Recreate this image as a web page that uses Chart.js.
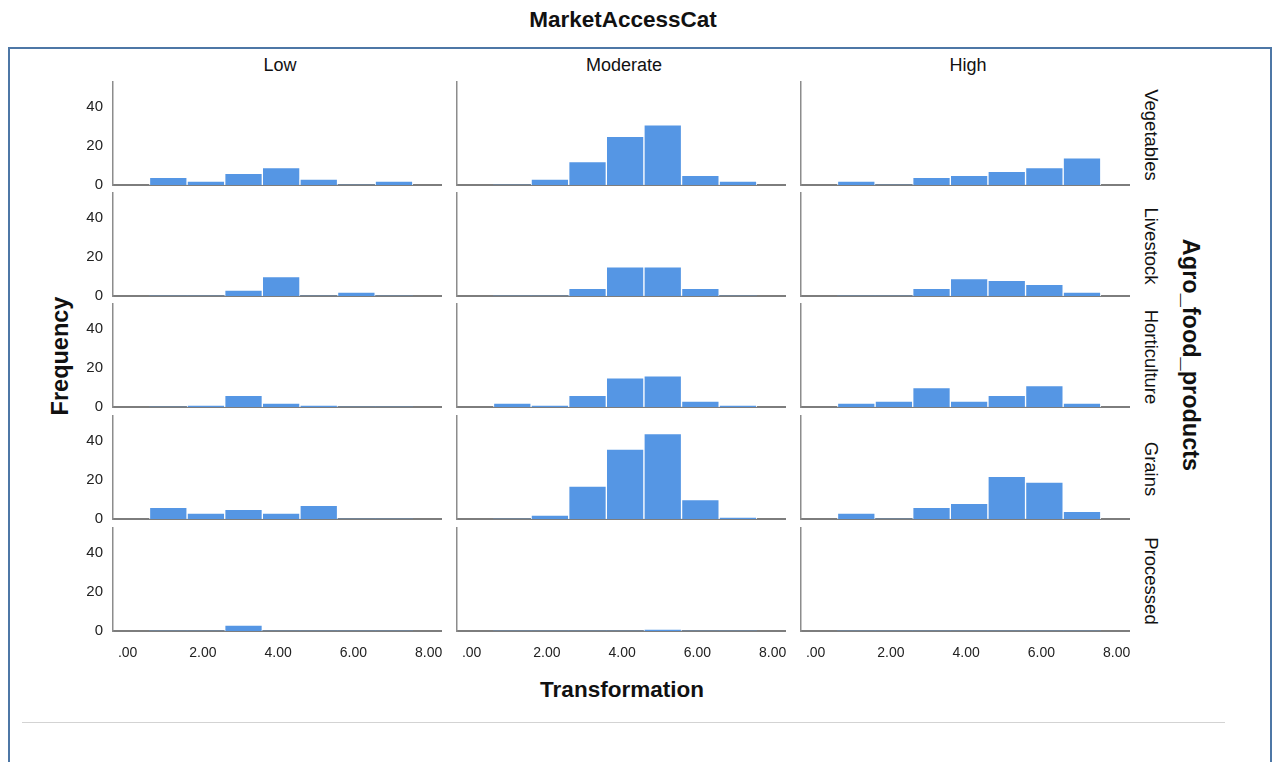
<!DOCTYPE html>
<html>
<head>
<meta charset="utf-8">
<script src="https://cdn.jsdelivr.net/npm/chart.js@4.4.0/dist/chart.umd.min.js"></script>
<style>
  body { margin: 0; background: #fff; width: 1280px; height: 762px; overflow: hidden; position: relative;
         font-family: "Liberation Sans", Arial, sans-serif; color: #111; }
  .lbl { position: absolute; white-space: nowrap; transform-origin: center center; }
  canvas { position: absolute; }
</style>
</head>
<body>
<div style="position:absolute;left:8px;top:47px;width:1260px;height:740px;border:2px solid #4d77a6;"></div>
<div style="position:absolute;left:22px;top:722px;width:1203px;height:1px;background:#d3d3d3;"></div>

<script>
// Facet labels
const markets = ['Low', 'Moderate', 'High'];
const products = ['Vegetables', 'Livestock', 'Horticulture', 'Grains', 'Processed'];

// Histogram bins (bin centres on the Transformation scale) and axis ticks
const binCenters = [1, 2, 3, 4, 5, 6, 7];
const xTickValues = [0, 2, 4, 6, 8];
const yTickValues = [0, 20, 40];

// Frequencies per bin, one array per product x market access level
const vegetablesLow      = [4, 2, 6, 9, 3, 0, 2];
const vegetablesModerate = [0, 3, 12, 25, 31, 5, 2];
const vegetablesHigh     = [2, 0, 4, 5, 7, 9, 14];

const livestockLow       = [0, 0, 3, 10, 0, 2, 0];
const livestockModerate  = [0, 0, 4, 15, 15, 4, 0];
const livestockHigh      = [0, 0, 4, 9, 8, 6, 2];

const horticultureLow      = [0, 1, 6, 2, 1, 0, 0];
const horticultureModerate = [2, 1, 6, 15, 16, 3, 1];
const horticultureHigh     = [2, 3, 10, 3, 6, 11, 2];

const grainsLow      = [6, 3, 5, 3, 7, 0, 0];
const grainsModerate = [0, 2, 17, 36, 44, 10, 1];
const grainsHigh     = [3, 0, 6, 8, 22, 19, 4];

const processedLow      = [0, 0, 3, 0, 0, 0, 0];
const processedModerate = [0, 0, 0, 0, 1, 0, 0];
const processedHigh     = [0, 0, 0, 0, 0, 0, 0];

const panelCounts = [
  [vegetablesLow, vegetablesModerate, vegetablesHigh],
  [livestockLow, livestockModerate, livestockHigh],
  [horticultureLow, horticultureModerate, horticultureHigh],
  [grainsLow, grainsModerate, grainsHigh],
  [processedLow, processedModerate, processedHigh]
];

// Panel geometry
const FONT = '"Liberation Sans", Arial, sans-serif';
const plotLefts = [113, 457, 801];
const plotTops = [82, 193, 304, 416, 528];
const plotW = 328, plotH = 103;
const YW = 45, XH = 34, PT = 24, PR = 44;
const barColor = '#5596e4';

function addText(text, cx, cy, size, weight, rotate) {
  const d = document.createElement('div');
  d.className = 'lbl';
  d.textContent = text;
  d.style.fontSize = size + 'px';
  d.style.fontWeight = weight;
  d.style.left = cx + 'px';
  d.style.top = cy + 'px';
  d.style.transform = 'translate(-50%,-50%) rotate(' + (rotate || 0) + 'deg)';
  document.body.appendChild(d);
}

addText('MarketAccessCat', 623, 20, 22.5, 'bold');
addText('Transformation', 622, 690, 22.5, 'bold');
addText('Frequency', 60, 356, 23.5, 'bold', -90);
addText('Agro_food_products', 1190, 355, 23.5, 'bold', 90);
markets.forEach((m, c) => addText(m, plotLefts[c] + plotW / 2 + 3, 65, 18, 'normal'));
products.forEach((p, r) => addText(p, 1151, plotTops[r] + plotH / 2 + 1, 18.5, 'normal', 90));

products.forEach((p, r) => {
  markets.forEach((m, c) => {
    const cv = document.createElement('canvas');
    const w = YW + plotW + PR, h = PT + plotH + XH;
    cv.width = w; cv.height = h;
    cv.style.width = w + 'px'; cv.style.height = h + 'px';
    cv.style.left = (plotLefts[c] - YW) + 'px';
    cv.style.top = (plotTops[r] - PT) + 'px';
    document.body.appendChild(cv);
    const vals = panelCounts[r][c];
    new Chart(cv, {
      type: 'bar',
      data: {
        datasets: [{
          data: binCenters.map((b, i) => ({ x: b, y: vals[i] })),
          backgroundColor: barColor,
          borderColor: 'rgba(255,255,255,0.9)',
          borderWidth: ctx => (ctx.raw && ctx.raw.y > 0) ? 1 : 0,
          borderSkipped: 'start',
          barPercentage: 1,
          categoryPercentage: 1
        }]
      },
      options: {
        responsive: false,
        animation: false,
        events: [],
        layout: { padding: { left: 0, top: PT, right: PR, bottom: 0 } },
        plugins: { legend: { display: false }, tooltip: { enabled: false } },
        scales: {
          x: {
            type: 'linear', min: -0.47, max: 8.25, offset: false,
            grid: { display: false, drawTicks: false },
            border: { display: true, color: '#7d7d7d', width: 2 },
            afterBuildTicks: s => { s.ticks = xTickValues.map(v => ({ value: v })); },
            afterFit: s => { s.height = XH; },
            ticks: {
              display: r === products.length - 1, autoSkip: false, maxRotation: 0, padding: 14,
              labelOffset: -3,
              color: '#222', font: { size: 14, family: FONT },
              callback: v => v === 0 ? '.00' : v.toFixed(2)
            }
          },
          y: {
            min: 0, max: 53,
            grid: { display: false, drawTicks: false },
            border: { display: true, color: '#8c8c8c', width: 1.5 },
            afterBuildTicks: s => { s.ticks = yTickValues.map(v => ({ value: v })); },
            afterFit: s => { s.width = YW; },
            ticks: {
              display: c === 0, padding: 10, color: '#222', font: { size: 15, family: FONT },
              callback: v => String(v)
            }
          }
        }
      }
    });
  });
});
</script>
</body>
</html>
